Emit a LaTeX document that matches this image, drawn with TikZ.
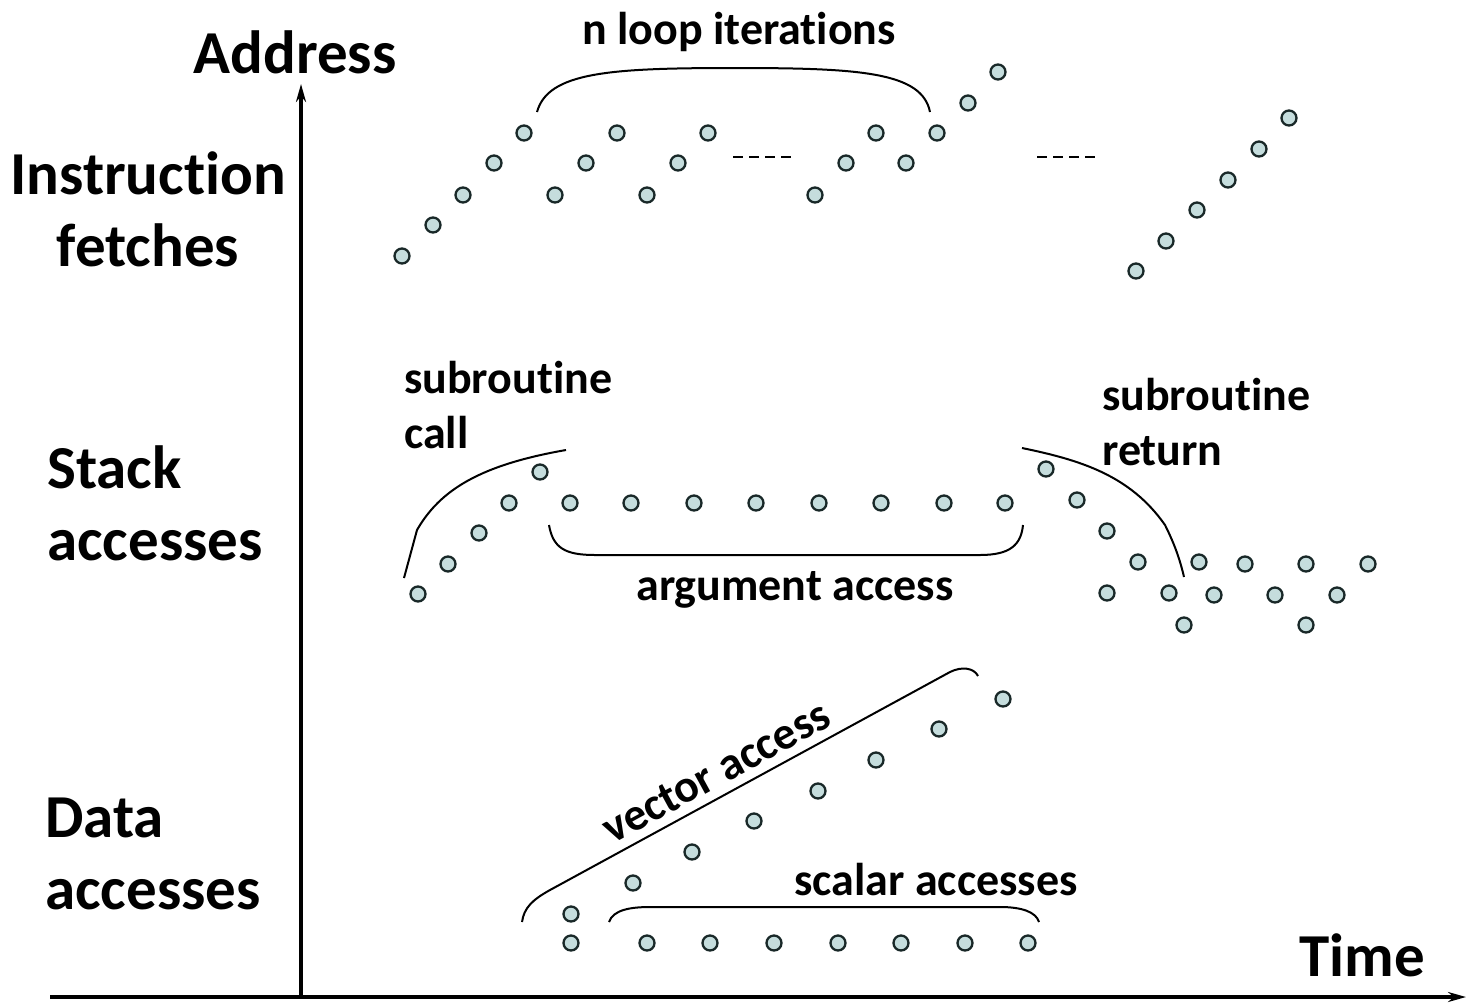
\documentclass[tikz,border=0pt]{standalone}
\usepackage{fontspec}
\setmainfont[Ligatures=NoCommon]{Carlito}
\usetikzlibrary{arrows.meta}
\definecolor{dotfill}{RGB}{197,221,221}
\definecolor{dotline}{RGB}{25,40,40}
\begin{document}
\begin{tikzpicture}[x=1pt,y=-1pt,
 dot/.style={circle,draw=dotline,fill=dotfill,line width=2.3pt,minimum size=15pt,inner sep=0pt},
 big/.style={font=\bfseries\fontsize{61}{72}\selectfont,inner sep=0pt},
 mid/.style={font=\bfseries\fontsize{46}{55}\selectfont,inner sep=0pt},
 brace/.style={line width=2pt,black},
 axis/.style={line width=4pt,-{Stealth[length=18pt,width=10pt]}},
 gap/.style={line width=1.5pt,dash pattern=on 10pt off 6pt}]
\useasboundingbox (0,0) rectangle (1469,1005);
% axes
\coordinate (o) at (301,997);
\coordinate (yend) at (301,84);
\coordinate (xstart) at (50,997);
\coordinate (xend) at (1466,997);
\draw[axis,line width=3.5pt] (o) -- (yend);
\draw[axis] (xstart) -- (xend);
% labels
\node[big] (address) at (295,52) {Address};
\node[big] (time) at (1362,955) {Time};
\node[big,align=center] (ifetch) at (148,209) {Instruction\\fetches};
\node[big,align=left,anchor=west] (stack) at (47,503) {Stack\\accesses};
\node[big,align=left,anchor=west] (data) at (45,854) {Data\\accesses};
\node[mid] (loops) at (739,32) {n loop iterations};
\node[mid,align=left,anchor=west] (scall) at (404,405) {subroutine\\call};
\node[mid,align=left,anchor=west] (sret) at (1102,422) {subroutine\\return};
\node[mid] (arg) at (795,590) {argument access};
\node[mid,rotate=28.6] (vec) at (716,772) {vector access};
\node[mid] (scal) at (936,880) {scalar accesses};
% instruction fetches
\foreach \x/\y [count=\i] in {402/256,433/225,463/195,494/163,524/133,555/195,586/163,617/133,647/195,678/163,708/133,815/195,846/163,876/133,906/163,937/133,968/103,998/72,1136/271,1166/241,1197/210,1228/180,1259/149,1289/118}
  \node[dot] (i\i) at (\x,\y) {};
\coordinate (ga) at (733,157); \coordinate (gb) at (795,157);
\coordinate (gc) at (1037,157); \coordinate (gd) at (1099,157);
\draw[gap] (ga) -- (gb);
\draw[gap] (gc) -- (gd);
% stack accesses
\foreach \x/\y [count=\i] in {418/594,448/564,479/533,509/503,540/472,570/503,631/503,694/503,756/503,819/503,881/503,944/503,1005/503,1046/469,1077/500,1107/531,1138/562,1107/593,1169/593,1184/625,1199/562,1214/595,1245/564,1275/595,1306/564,1306/625,1337/595,1368/564}
  \node[dot] (s\i) at (\x,\y) {};
% data accesses
\foreach \x/\y [count=\i] in {571/914,633/883,692/852,754/821,818/791,876/760,939/729,1003/699}
  \node[dot] (v\i) at (\x,\y) {};
\foreach \x/\y [count=\i] in {571/943,647/943,710/943,774/943,838/943,901/943,965/943,1028/943}
  \node[dot] (c\i) at (\x,\y) {};
% braces
\coordinate (la) at (537,112); \coordinate (lb) at (735,68); \coordinate (lc) at (930,112);
\draw[brace] (la) .. controls (548,72) and (610,68) .. (lb) .. controls (860,68) and (922,72) .. (lc);
\coordinate (ca) at (404,578); \coordinate (cb) at (566,450);
\draw[brace] (ca) -- (417,530) .. controls (440,490) and (480,465) .. (cb);
\coordinate (aa) at (549,525); \coordinate (ab) at (1023,525);
\draw[brace] (aa) .. controls (553,548) and (565,555) .. (595,555) -- (980,555) .. controls (1010,555) and (1021,545) .. (ab);
\coordinate (ra) at (1022,448); \coordinate (rb) at (1184,577);
\draw[brace] (ra) .. controls (1080,460) and (1130,475) .. (1165,525) .. controls (1175,545) and (1180,560) .. (rb);
\coordinate (va) at (522,922); \coordinate (vb) at (978,676);
\draw[brace] (va) .. controls (524,908) and (532,900) .. (550,890) -- (950,672) .. controls (962,666) and (974,668) .. (vb);
\coordinate (sa) at (609,922); \coordinate (sb) at (1039,922);
\draw[brace] (sa) .. controls (613,910) and (630,907) .. (650,907) -- (1000,907) .. controls (1022,907) and (1036,912) .. (sb);
\end{tikzpicture}
\end{document}
